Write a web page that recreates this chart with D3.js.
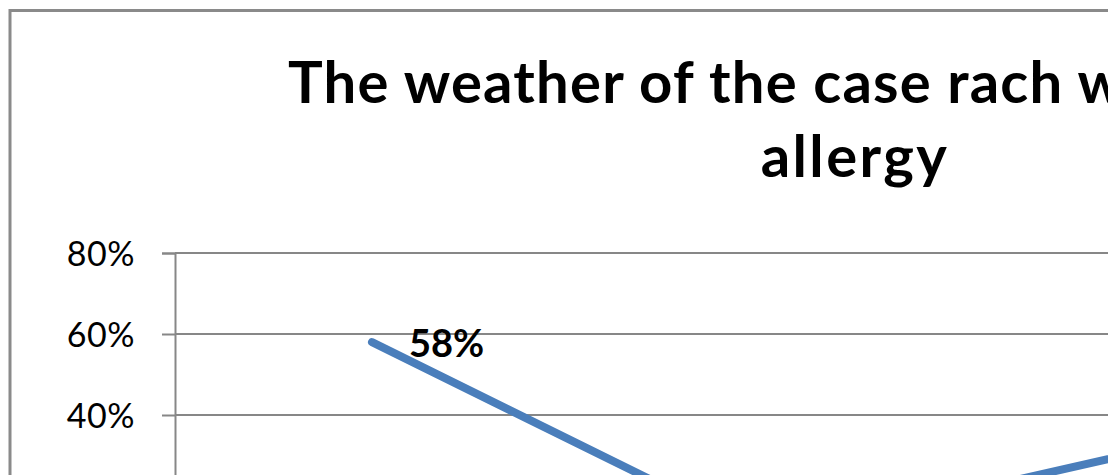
<!DOCTYPE html>
<html>
<head>
<meta charset="utf-8">
<script src="https://cdn.jsdelivr.net/npm/d3@7"></script>
<style>
  html, body { margin: 0; padding: 0; background: #ffffff; }
  svg { display: block; overflow: hidden; }
</style>
</head>
<body>
<div id="chart"></div>
<script>
// Share of cases by weather condition
const categories = ["Hot", "Cold", "Moderate"];
const shares = [0.58, 0.10, 0.32];
const yTicks = [0, 0.2, 0.4, 0.6, 0.8];
const titleLines = ["The weather of the case rach with contact", "allergy"];

const width = 1108, height = 475;
const plot = { left: 175, top: 253, right: 1357, bottom: 577 };
const font = "Lato, 'Open Sans', sans-serif";

const svg = d3.select("#chart").append("svg")
  .attr("width", width)
  .attr("height", height);

// chart-area frame
svg.append("rect")
  .attr("x", 10).attr("y", 10.5)
  .attr("width", 1672).attr("height", 760)
  .attr("fill", "#ffffff")
  .attr("stroke", "#8a8a8a")
  .attr("stroke-width", 3);

// title, two wrapped lines
const title = svg.append("g")
  .attr("font-family", font)
  .attr("font-weight", "bold")
  .attr("font-size", 58)
  .attr("fill", "#000");
title.append("text")
  .attr("x", 288).attr("y", 103)
  .attr("letter-spacing", 1.2)
  .text(titleLines[0]);
title.append("text")
  .attr("x", 855).attr("y", 177)
  .attr("text-anchor", "middle")
  .attr("letter-spacing", 2.4)
  .text(titleLines[1]);

const x = d3.scaleBand()
  .domain(categories)
  .range([plot.left, plot.right]);

const y = d3.scaleLinear()
  .domain([0, 0.8])
  .range([plot.bottom, plot.top]);

// horizontal gridlines
svg.append("g")
  .selectAll("line")
  .data(yTicks.filter(d => d > 0))
  .join("line")
  .attr("x1", plot.left).attr("x2", plot.right)
  .attr("y1", d => y(d)).attr("y2", d => y(d))
  .attr("stroke", "#878787")
  .attr("stroke-width", 2);

// value axis with outside ticks
const yAxis = d3.axisLeft(y)
  .tickValues(yTicks)
  .tickFormat(d3.format(".0%"))
  .tickSize(13)
  .tickPadding(27);

const yg = svg.append("g")
  .attr("transform", `translate(${plot.left},0)`)
  .call(yAxis);
yg.select(".domain").attr("stroke", "#878787").attr("stroke-width", 2);
yg.selectAll(".tick line").attr("stroke", "#878787").attr("stroke-width", 2);
yg.selectAll(".tick text")
  .attr("font-family", font)
  .attr("font-size", 34)
  .attr("letter-spacing", 0.5)
  .attr("fill", "#000")
  .attr("dy", "0.36em");

// category labels
svg.append("g")
  .selectAll("text")
  .data(categories)
  .join("text")
  .attr("x", d => x(d) + x.bandwidth() / 2)
  .attr("y", plot.bottom + 40)
  .attr("text-anchor", "middle")
  .attr("font-family", font)
  .attr("font-size", 34)
  .text(d => d);

const pts = categories.map((c, i) => ({ c, v: shares[i] }));

const line = d3.line()
  .x(d => x(d.c) + x.bandwidth() / 2)
  .y(d => y(d.v));

svg.append("path")
  .datum(pts)
  .attr("d", line)
  .attr("fill", "none")
  .attr("stroke", "#4a7ebb")
  .attr("stroke-width", 8)
  .attr("stroke-linecap", "round")
  .attr("stroke-linejoin", "round");

// data labels to the right of each point
svg.append("g")
  .selectAll("text")
  .data(pts)
  .join("text")
  .attr("x", d => x(d.c) + x.bandwidth() / 2 + 37)
  .attr("y", d => y(d.v) + 15)
  .attr("font-family", font)
  .attr("font-weight", "bold")
  .attr("font-size", 38)
  .attr("fill", "#000")
  .text(d => d3.format(".0%")(d.v));
</script>
</body>
</html>
